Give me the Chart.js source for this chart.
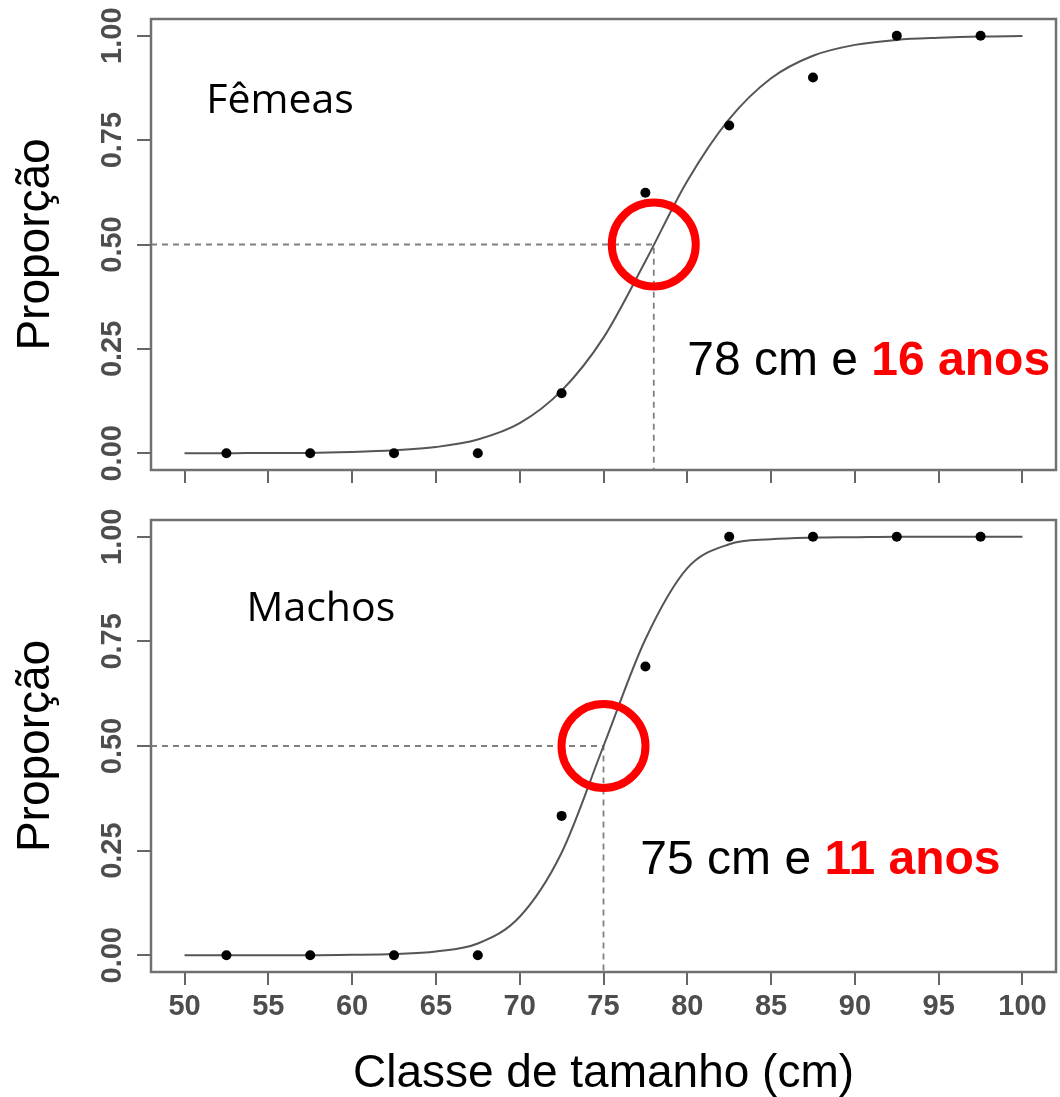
<!DOCTYPE html>
<html>
<head>
<meta charset="utf-8">
<script src="https://cdn.jsdelivr.net/npm/chart.js@4.4.1/dist/chart.umd.min.js"></script>
<style>
  body { margin: 0; background: #fff; }
  #wrap { position: relative; width: 1060px; height: 1097px; background: #fff; }
  .panel { position: absolute; left: 0; }
  #topPanel { top: 0; }
  #bottomPanel { top: 500px; }
</style>
</head>
<body>
<div id="wrap">
  <div class="panel" id="topPanel"><canvas id="femeasChart" width="1060" height="500"></canvas></div>
  <div class="panel" id="bottomPanel"><canvas id="machosChart" width="1060" height="597"></canvas></div>
</div>
<script>
// observed proportions per size class (class mid points)
const class_mid = [52.5, 57.5, 62.5, 67.5, 72.5, 77.5, 82.5, 87.5, 92.5, 97.5];
const femeas_prop = [0, 0, 0, 0, 0.144, 0.624, 0.785, 0.90, 1, 1];
const machos_prop = [0, 0, 0, 0, 0.333, 0.69, 1, 1, 1, 1];

// fitted curves
const curve_x = [50, 52.5, 55, 57.5, 60, 62.5, 65, 67.5, 70, 72.5, 75, 77.5, 80, 82.5, 85, 87.5, 90, 92.5, 95, 97.5, 100];
const femeas_curve = [0, 0, 0.001, 0.001, 0.003, 0.007, 0.015, 0.033, 0.072, 0.150, 0.277, 0.46, 0.652, 0.800, 0.898, 0.952, 0.978, 0.990, 0.995, 0.998, 0.999];
const machos_curve = [0, 0, 0, 0, 0.001, 0.003, 0.009, 0.028, 0.092, 0.245, 0.5, 0.755, 0.925, 0.982, 0.994, 0.998, 0.999, 1, 1, 1, 1];

// L50 (cm) and age
const group_names = ['Fêmeas', 'Machos'];
const l50_size = [78, 75];
const l50_age = [16, 11];

const x_range = [48, 102];
const y_range = [-0.04, 1.04];

const tickFont = { family: 'Liberation Sans, Arial, sans-serif', size: 29, weight: 'bold' };
const titleFont = { family: 'Liberation Sans, Arial, sans-serif', size: 46, lineHeight: 1 };

function pts(xs, ys) {
  return xs.map((x, i) => ({ x: x, y: ys[i] }));
}

// box round the plot + the text notes
const boxNotes = {
  id: 'boxNotes',
  afterDatasetsDraw(chart, args, opts) {
    const ctx = chart.ctx;
    const a = chart.chartArea;
    const xs = chart.scales.x, ys = chart.scales.y;
    ctx.save();
    ctx.strokeStyle = '#707070';
    ctx.lineWidth = 2.5;
    ctx.strokeRect(a.left, a.top, a.right - a.left, a.bottom - a.top);

    ctx.textBaseline = 'middle';
    ctx.textAlign = 'left';
    ctx.fillStyle = '#000';
    ctx.font = '41px "Open Sans", sans-serif';
    ctx.fillText(opts.name, xs.getPixelForValue(opts.nameAt[0]), ys.getPixelForValue(opts.nameAt[1]));

    const tx = xs.getPixelForValue(opts.textAt[0]);
    const ty = ys.getPixelForValue(opts.textAt[1]);
    const first = opts.size + ' cm e ';
    ctx.font = '48px "Liberation Sans", Arial, sans-serif';
    ctx.fillText(first, tx, ty);
    const w = ctx.measureText(first).width;
    ctx.font = 'bold 48px "Liberation Sans", Arial, sans-serif';
    ctx.fillStyle = '#ff0000';
    ctx.fillText(opts.age + ' anos', tx + w, ty);
    ctx.restore();
  }
};

function makeChart(canvasId, k, props, curve, showXLabels, nameAt, textAt) {
  const l50 = l50_size[k];
  const ctx = document.getElementById(canvasId).getContext('2d');
  return new Chart(ctx, {
    type: 'scatter',
    data: {
      datasets: [
        {
          type: 'scatter',
          data: [{ x: l50, y: 0.5 }],
          pointRadius: 42,
          pointHoverRadius: 42,
          pointBorderWidth: 8,
          pointBorderColor: '#ff0000',
          pointBackgroundColor: 'rgba(0,0,0,0)'
        },
        {
          type: 'scatter',
          data: pts(class_mid, props),
          pointRadius: 5,
          pointHoverRadius: 5,
          pointBorderWidth: 0,
          pointBackgroundColor: '#000'
        },
        {
          type: 'line',
          data: pts(curve_x, curve),
          borderColor: '#555',
          borderWidth: 2,
          pointRadius: 0,
          cubicInterpolationMode: 'monotone',
          fill: false
        },
        {
          type: 'line',
          data: [{ x: x_range[0], y: 0.5 }, { x: l50, y: 0.5 }, { x: l50, y: y_range[0] }],
          borderColor: '#808080',
          borderWidth: 1.8,
          borderDash: [6, 5],
          pointRadius: 0,
          tension: 0,
          fill: false
        }
      ]
    },
    options: {
      responsive: false,
      animation: false,
      layout: { autoPadding: false, padding: { left: 0, right: 4, top: showXLabels ? 20 : 19, bottom: 0 } },
      scales: {
        x: {
          type: 'linear',
          min: x_range[0],
          max: x_range[1],
          afterFit: s => { s.height = showXLabels ? 125 : 30; },
          border: { display: false },
          grid: { drawOnChartArea: false, tickLength: 13, color: '#666', lineWidth: 2 },
          ticks: {
            display: showXLabels,
            stepSize: 5,
            includeBounds: false,
            maxRotation: 0,
            padding: 5,
            color: '#4d4d4d',
            font: tickFont
          },
          title: {
            display: showXLabels,
            text: 'Classe de tamanho (cm)',
            color: '#000',
            font: titleFont,
            padding: { top: 0, bottom: 0 }
          }
        },
        y: {
          min: y_range[0],
          max: y_range[1],
          afterFit: s => { s.width = 151; },
          border: { display: false },
          grid: { drawOnChartArea: false, tickLength: 14, color: '#666', lineWidth: 2 },
          ticks: {
            stepSize: 0.25,
            includeBounds: false,
            minRotation: 90,
            maxRotation: 90,
            crossAlign: 'center',
            padding: -4,
            color: '#4d4d4d',
            font: tickFont,
            callback: v => v.toFixed(2)
          },
          title: {
            display: true,
            text: 'Proporção',
            color: '#000',
            font: titleFont,
            padding: { top: 13, bottom: 0 }
          }
        }
      },
      plugins: {
        legend: { display: false },
        tooltip: { enabled: false },
        boxNotes: { name: group_names[k], size: l50, age: l50_age[k], nameAt: nameAt, textAt: textAt }
      }
    },
    plugins: [boxNotes]
  });
}

const femeasChart = makeChart('femeasChart', 0, femeas_prop, femeas_curve, false, [51.3, 0.842], [80, 0.218]);
const machosChart = makeChart('machosChart', 1, machos_prop, machos_curve, true, [53.7, 0.826], [77.2, 0.226]);
</script>
</body>
</html>
